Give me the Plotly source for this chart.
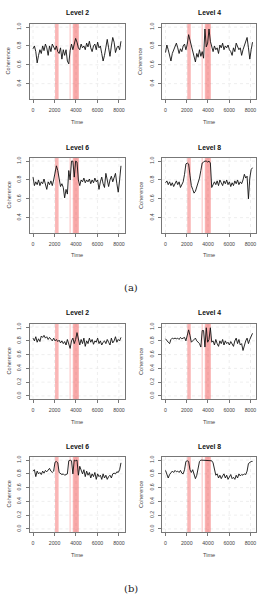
import plotly.graph_objects as go

W, H = 263, 608

TIME = list(range(0, 8193, 128))

L2A = [0.77, 0.80, 0.74, 0.62, 0.70, 0.76, 0.72, 0.80, 0.75, 0.82, 0.78, 0.70, 0.80, 0.74, 0.82, 0.78,
       0.76, 0.80, 0.74, 0.72, 0.78, 0.66, 0.76, 0.70, 0.76, 0.64, 0.61, 0.75, 0.82, 0.76, 0.84, 0.88,
       0.84, 0.78, 0.76, 0.82, 0.78, 0.80, 0.76, 0.83, 0.79, 0.85, 0.78, 0.74, 0.80, 0.82, 0.76, 0.84,
       0.78, 0.80, 0.72, 0.64, 0.70, 0.80, 0.87, 0.78, 0.69, 0.80, 0.89, 0.84, 0.73, 0.78, 0.80, 0.76, 0.85]
L4A = [0.73, 0.81, 0.76, 0.70, 0.64, 0.72, 0.76, 0.79, 0.83, 0.78, 0.72, 0.77, 0.74, 0.80, 0.82, 0.76,
       0.82, 0.92, 0.86, 0.79, 0.76, 0.70, 0.63, 0.72, 0.68, 0.76, 0.69, 0.74, 0.67, 0.98, 0.79, 0.83,
       0.98, 0.85, 0.78, 0.74, 0.80, 0.76, 0.78, 0.72, 0.81, 0.78, 0.83, 0.76, 0.80, 0.78, 0.81, 0.76,
       0.74, 0.70, 0.78, 0.74, 0.83, 0.80, 0.76, 0.78, 0.70, 0.76, 0.80, 0.86, 0.89, 0.78, 0.66, 0.76, 0.84]
L6A = [0.83, 0.74, 0.78, 0.75, 0.80, 0.74, 0.78, 0.76, 0.81, 0.75, 0.70, 0.78, 0.75, 0.79, 0.74, 0.80,
       0.86, 0.95, 0.90, 0.80, 0.73, 0.76, 0.72, 0.61, 0.70, 0.65, 0.90, 0.80, 1.00, 1.00, 0.83, 1.00,
       0.99, 0.80, 0.74, 0.80, 0.78, 0.82, 0.77, 0.80, 0.78, 0.81, 0.76, 0.80, 0.77, 0.82, 0.78, 0.80,
       0.70, 0.78, 0.83, 0.76, 0.72, 0.87, 0.80, 0.73, 0.80, 0.84, 0.78, 0.82, 0.87, 0.76, 0.67, 0.80, 0.95]
L8A = [0.77, 0.79, 0.75, 0.78, 0.74, 0.77, 0.73, 0.76, 0.79, 0.75, 0.78, 0.72, 0.76, 0.78, 0.86, 0.97,
       0.98, 0.97, 0.85, 0.74, 0.70, 0.66, 0.68, 0.72, 0.78, 0.82, 0.90, 0.98, 0.99, 1.00, 1.00, 0.99,
       1.00, 0.98, 0.72, 0.76, 0.78, 0.75, 0.79, 0.74, 0.80, 0.77, 0.74, 0.79, 0.76, 0.80, 0.75, 0.78,
       0.73, 0.77, 0.74, 0.79, 0.76, 0.80, 0.75, 0.78, 0.76, 0.80, 0.86, 0.82, 0.84, 0.60, 0.82, 0.91, 0.93]

L2B = [0.84, 0.80, 0.86, 0.78, 0.83, 0.79, 0.87, 0.85, 0.88, 0.84, 0.86, 0.82, 0.85, 0.83, 0.80, 0.84,
       0.80, 0.82, 0.79, 0.81, 0.77, 0.80, 0.76, 0.79, 0.74, 0.82, 0.76, 0.69, 0.80, 0.84, 0.76, 0.82,
       0.92, 0.80, 0.74, 0.82, 0.76, 0.84, 0.72, 0.80, 0.76, 0.84, 0.78, 0.82, 0.75, 0.80, 0.78, 0.84,
       0.76, 0.80, 0.74, 0.78, 0.80, 0.76, 0.82, 0.78, 0.74, 0.84, 0.77, 0.80, 0.86, 0.78, 0.82, 0.80, 0.85]
L4B = [0.83, 0.80, 0.78, 0.76, 0.82, 0.84, 0.83, 0.84, 0.83, 0.84, 0.82, 0.85, 0.83, 0.84, 0.85, 0.80,
       0.88, 0.96, 0.88, 0.78, 0.80, 0.82, 0.84, 0.80, 0.78, 0.76, 0.71, 0.95, 0.95, 0.71, 0.99, 0.78,
       0.82, 0.99, 0.78, 0.80, 0.74, 0.82, 0.76, 0.72, 0.80, 0.76, 0.82, 0.74, 0.80, 0.76, 0.78, 0.74,
       0.79, 0.76, 0.72, 0.80, 0.84, 0.76, 0.82, 0.74, 0.76, 0.66, 0.74, 0.80, 0.84, 0.76, 0.82, 0.86, 0.91]
L6B = [0.84, 0.86, 0.76, 0.84, 0.80, 0.82, 0.79, 0.84, 0.81, 0.85, 0.83, 0.86, 0.88, 0.84, 0.82, 0.84,
       0.97, 0.98, 0.96, 0.82, 0.80, 0.79, 0.80, 0.78, 0.79, 0.80, 0.99, 1.00, 0.99, 0.80, 1.00, 0.99,
       1.00, 0.78, 0.91, 0.84, 0.80, 0.86, 0.76, 0.84, 0.78, 0.82, 0.74, 0.80, 0.76, 0.82, 0.72, 0.80,
       0.76, 0.78, 0.72, 0.80, 0.74, 0.78, 0.72, 0.76, 0.78, 0.74, 0.80, 0.81, 0.80, 0.83, 0.82, 0.86, 0.96]
L8B = [0.85, 0.80, 0.74, 0.79, 0.81, 0.84, 0.82, 0.85, 0.83, 0.84, 0.82, 0.85, 0.81, 0.80, 0.86, 0.98,
       0.99, 0.98, 0.86, 0.82, 0.86, 0.80, 0.73, 0.78, 0.86, 0.98, 1.00, 1.00, 1.00, 1.00, 1.00, 1.00,
       1.00, 1.00, 0.99, 0.96, 0.88, 0.78, 0.80, 0.74, 0.78, 0.73, 0.77, 0.80, 0.74, 0.78, 0.72, 0.76,
       0.79, 0.73, 0.75, 0.72, 0.78, 0.74, 0.80, 0.77, 0.79, 0.78, 0.80, 0.79, 0.84, 0.95, 0.97, 0.98, 0.98]

TITLES = ["Level 2", "Level 4", "Level 6", "Level 8", "Level 2", "Level 4", "Level 6", "Level 8"]
SERIES = [L2A, L4A, L6A, L8A, L2B, L4B, L6B, L8B]

BANDS = [(2050, 2380, 0.34), (3390, 3520, 0.22), (3700, 4280, 0.32), (3780, 4180, 0.12)]

XTICKS = [0, 2000, 4000, 6000, 8000]
YTICKS_A = [0.4, 0.6, 0.8, 1.0]
YTICKS_B = [0.0, 0.2, 0.4, 0.6, 0.8, 1.0]
YRANGE_A = [0.237, 1.033]
YRANGE_B = [-0.045, 1.045]

# pixel layout
COLS = [(29.5, 124.5), (162, 256)]
ROWS = [(24, 99), (158, 233), (324, 399), (457, 532)]
TITLE_Y = [12, 147, 312, 446]

def px_x(p):
    return p / W

def px_y(p):
    return 1 - p / H

fig = go.Figure()
layout = dict(width=W, height=H, margin=dict(l=0, r=0, t=0, b=0),
              paper_bgcolor="white", plot_bgcolor="white", showlegend=False,
              font=dict(family="Liberation Sans, Arial, sans-serif", color="#222"))
shapes = []
annotations = []
GRID = dict(color="#e6e6e6", width=0.7, dash="dot")

for k in range(8):
    n = k + 1
    r, c = k // 2, k % 2
    xs = "" if n == 1 else str(n)
    x0, x1 = COLS[c]
    y0, y1 = ROWS[r]
    part_b = k >= 4
    yt = YTICKS_B if part_b else YTICKS_A
    fig.add_trace(go.Scatter(x=TIME, y=SERIES[k], mode="lines",
                             line=dict(color="#111", width=0.9),
                             xaxis="x" + xs, yaxis="y" + xs, hoverinfo="skip"))
    layout["xaxis" + xs] = dict(
        domain=[px_x(x0), px_x(x1)], anchor="y" + xs, range=[-330, 8520],
        tickvals=XTICKS, ticktext=[str(v) for v in XTICKS],
        ticks="outside", ticklen=3, tickcolor="#777", tickwidth=0.8,
        showline=True, mirror=True, linecolor="#777", linewidth=1,
        showgrid=False, zeroline=False, tickfont=dict(size=5.2, color="#444"),
        ticklabelstandoff=3, fixedrange=True)
    layout["yaxis" + xs] = dict(
        domain=[px_y(y1), px_y(y0)], anchor="x" + xs,
        range=YRANGE_B if part_b else YRANGE_A,
        tickvals=yt, ticktext=["%.1f" % v for v in yt], tickangle=-90,
        ticks="outside", ticklen=3, tickcolor="#777", tickwidth=0.8,
        showline=True, mirror=True, linecolor="#777", linewidth=1,
        showgrid=False, zeroline=False, tickfont=dict(size=5.2, color="#444"),
        ticklabelstandoff=2, fixedrange=True)
    # grid (drawn first, beneath the bands)
    for tv in XTICKS:
        shapes.append(dict(type="line", xref="x" + xs, yref="y" + xs + " domain",
                           x0=tv, x1=tv, y0=0, y1=1, line=GRID, layer="below"))
    for tv in yt:
        shapes.append(dict(type="line", xref="x" + xs + " domain", yref="y" + xs,
                           x0=0, x1=1, y0=tv, y1=tv, line=GRID, layer="below"))
    for b0, b1, a in BANDS:
        shapes.append(dict(type="rect", xref="x" + xs, yref="y" + xs + " domain",
                           x0=b0, x1=b1, y0=0, y1=1, line=dict(width=0),
                           fillcolor="rgba(240,40,40,%.2f)" % a, layer="below"))
    annotations.append(dict(text="<b>" + TITLES[k] + "</b>", x=px_x((x0 + x1) / 2), y=px_y(TITLE_Y[r]),
                            xref="paper", yref="paper", showarrow=False,
                            xanchor="center", yanchor="middle", font=dict(size=6.8, color="#111")))
    annotations.append(dict(text="Time", x=px_x((x0 + x1) / 2), y=px_y(y1 + 22.5),
                            xref="paper", yref="paper", showarrow=False,
                            xanchor="center", yanchor="middle", font=dict(size=5.6, color="#444")))
    annotations.append(dict(text="Coherence", x=px_x(x0 - 21.5), y=px_y((y0 + y1) / 2),
                            xref="paper", yref="paper", showarrow=False, textangle=-90,
                            xanchor="center", yanchor="middle", font=dict(size=5.6, color="#444")))

for lab, yp in [("(a)", 287), ("(b)", 588)]:
    annotations.append(dict(text=lab, x=px_x(131), y=px_y(yp), xref="paper", yref="paper",
                            showarrow=False, xanchor="center", yanchor="middle",
                            font=dict(size=10, family="DejaVu Serif, Liberation Serif, serif", color="#222")))

layout["shapes"] = shapes
layout["annotations"] = annotations
fig.update_layout(**layout)
fig.write_html("out.html", config={"displayModeBar": False})
